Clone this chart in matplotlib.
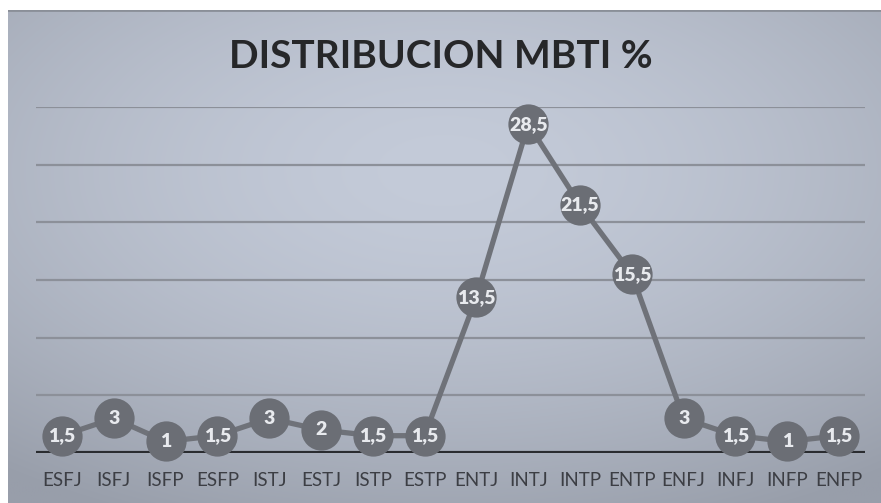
import numpy as np
import matplotlib.pyplot as plt

# MBTI types and their share (%)
tipos = ["ESFJ", "ISFJ", "ISFP", "ESFP", "ISTJ", "ESTJ", "ISTP", "ESTP",
         "ENTJ", "INTJ", "INTP", "ENTP", "ENFJ", "INFJ", "INFP", "ENFP"]
porcentaje = [1.5, 3, 1, 1.5, 3, 2, 1.5, 1.5,
              13.5, 28.5, 21.5, 15.5, 3, 1.5, 1, 1.5]
titulo = "DISTRIBUCION MBTI %"

W, H = 881, 503
fig = plt.figure(figsize=(W / 100, H / 100), dpi=100)
fig.patch.set_facecolor("white")

# background panel with a soft radial gradient
px0 = 8 / W
bg = fig.add_axes([px0, 0, 1 - px0, 1 - 10 / H])
bg.set_axis_off()
yy, xx = np.mgrid[-1:1:300j, -1:1:500j]
r = np.sqrt((xx * 0.85) ** 2 + ((yy + 0.35) * 0.9) ** 2)
r = np.clip(r, 0, 1.4) / 1.4
c_in = np.array([0xc4, 0xcb, 0xd9]) / 255
c_out = np.array([0x98, 0x9e, 0xaa]) / 255
img = c_in[None, None, :] * (1 - r[..., None] ** 1.6) + c_out[None, None, :] * r[..., None] ** 1.6
bg.imshow(img, aspect="auto", extent=[0, 1, 0, 1], interpolation="bilinear")
bg.set_xlim(0, 1)
bg.set_ylim(0, 1)
bg.axhline(1, color="#8a8f98", lw=2)

# plot area
x0, x1 = 36 / W, 865 / W
y_bottom = 453
ppu = 57.7 / 5
y_top = y_bottom - 30 * ppu
ax = fig.add_axes([x0, 1 - y_bottom / H, x1 - x0, (y_bottom - y_top) / H])
ax.patch.set_alpha(0)
ax.set_xlim(-0.5, len(tipos) - 0.5)
ax.set_ylim(0, 30)
for v in range(5, 31, 5):
    ax.axhline(v, color="#8c9099", lw=1.6, zorder=1)
ax.axhline(0, color="#2a2c30", lw=3, zorder=1)
for s in ax.spines.values():
    s.set_visible(False)
ax.set_yticks([])
ax.set_xticks(range(len(tipos)))
ax.set_xticklabels(tipos, fontsize=13.5, color="#3c3e44", family="Lato")
ax.tick_params(axis="x", length=0, pad=14)

xs = np.arange(len(tipos))
ax.plot(xs, porcentaje, color="#6f7279", lw=3.8, zorder=2, clip_on=False)
ax.scatter(xs, porcentaje, s=840, color="#6b6e75", zorder=3, clip_on=False,
           linewidths=0)
for x, v in zip(xs, porcentaje):
    txt = ("%g" % v).replace(".", ",")
    ax.text(x, v, txt, ha="center", va="center", color="#e8eaee",
            fontsize=14, fontweight="heavy", family="Lato", zorder=4)

fig.text(0.5, 1 - 56 / H, titulo, ha="center", va="center", fontsize=28,
         fontweight="bold", color="#262729", family="Lato")

fig.savefig("out.png", dpi=100)
